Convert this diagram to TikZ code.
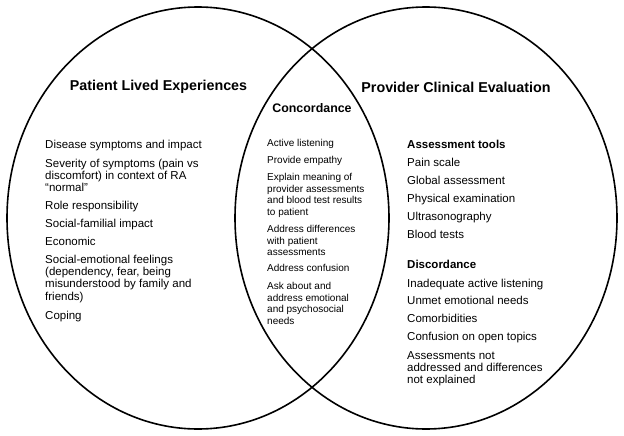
\documentclass[tikz,border=0pt]{standalone}
\usepackage{fontspec}
\setmainfont{Liberation Sans}
\newcommand{\mylines}[1]{\begin{tabular}[t]{@{}l@{}}#1\end{tabular}}
\begin{document}
\begin{tikzpicture}[x=1pt,y=-1pt,
  venn/.style={draw=black,line width=1.6pt},
  title/.style={font=\fontsize{14.3}{16}\selectfont\bfseries,anchor=center,inner sep=0pt},
  item/.style={font=\fontsize{11.5}{12.4}\selectfont,anchor=base west,inner sep=0pt},
  citem/.style={font=\fontsize{10}{11.6}\selectfont,anchor=base west,inner sep=0pt},
  head/.style={font=\fontsize{11.5}{12.4}\selectfont\bfseries,anchor=base west,inner sep=0pt}]
\useasboundingbox[fill=white] (0,0) rectangle (624,436);
\draw[venn] (198,218) ellipse [x radius=191pt, y radius=211pt];
\draw[venn] (426,218) ellipse [x radius=191pt, y radius=211pt];

\node[title] (tleft) at (158.5,87) {Patient Lived Experiences};
\node[title] (tright) at (456,87) {Provider Clinical Evaluation};
\node[font=\fontsize{12.4}{14}\selectfont\bfseries,anchor=center,inner sep=0pt] (tmid) at (312,108) {Concordance};

% left column
\node[item] (l1) at (45,148) {Disease symptoms and impact};
\node[item] (l2) at (45,167) {\mylines{Severity of symptoms (pain vs\\discomfort) in context of RA\\``normal''}};
\node[item] (l3) at (45,209) {Role responsibility};
\node[item] (l4) at (45,227) {Social-familial impact};
\node[item] (l5) at (45,245) {Economic};
\node[item] (l6) at (45,263) {\mylines{Social-emotional feelings\\(dependency, fear, being\\misunderstood by family and\\friends)}};
\node[item] (l7) at (45,319) {Coping};

% middle column
\node[citem] (c1) at (267,146.5) {Active listening};
\node[citem] (c2) at (267,163.5) {Provide empathy};
\node[citem] (c3) at (267,180.5) {\mylines{Explain meaning of\\provider assessments\\and blood test results\\to patient}};
\node[citem] (c4) at (267,232.5) {\mylines{Address differences\\with patient\\assessments}};
\node[citem] (c5) at (267,271.5) {Address confusion};
\node[citem] (c6) at (267,289.5) {\mylines{Ask about and\\address emotional\\and psychosocial\\needs}};

% right column
\node[head] (r0) at (407,148) {Assessment tools};
\node[item] (r1) at (407,166) {Pain scale};
\node[item] (r2) at (407,184) {Global assessment};
\node[item] (r3) at (407,202) {Physical examination};
\node[item] (r4) at (407,220) {Ultrasonography};
\node[item] (r5) at (407,238) {Blood tests};
\node[head] (d0) at (407,268) {Discordance};
\node[item] (d1) at (407,287) {Inadequate active listening};
\node[item] (d2) at (407,304) {Unmet emotional needs};
\node[item] (d3) at (407,322) {Comorbidities};
\node[item] (d4) at (407,340) {Confusion on open topics};
\node[item] (d5) at (407,359) {\mylines{Assessments not\\addressed and differences\\not explained}};
\end{tikzpicture}
\end{document}
